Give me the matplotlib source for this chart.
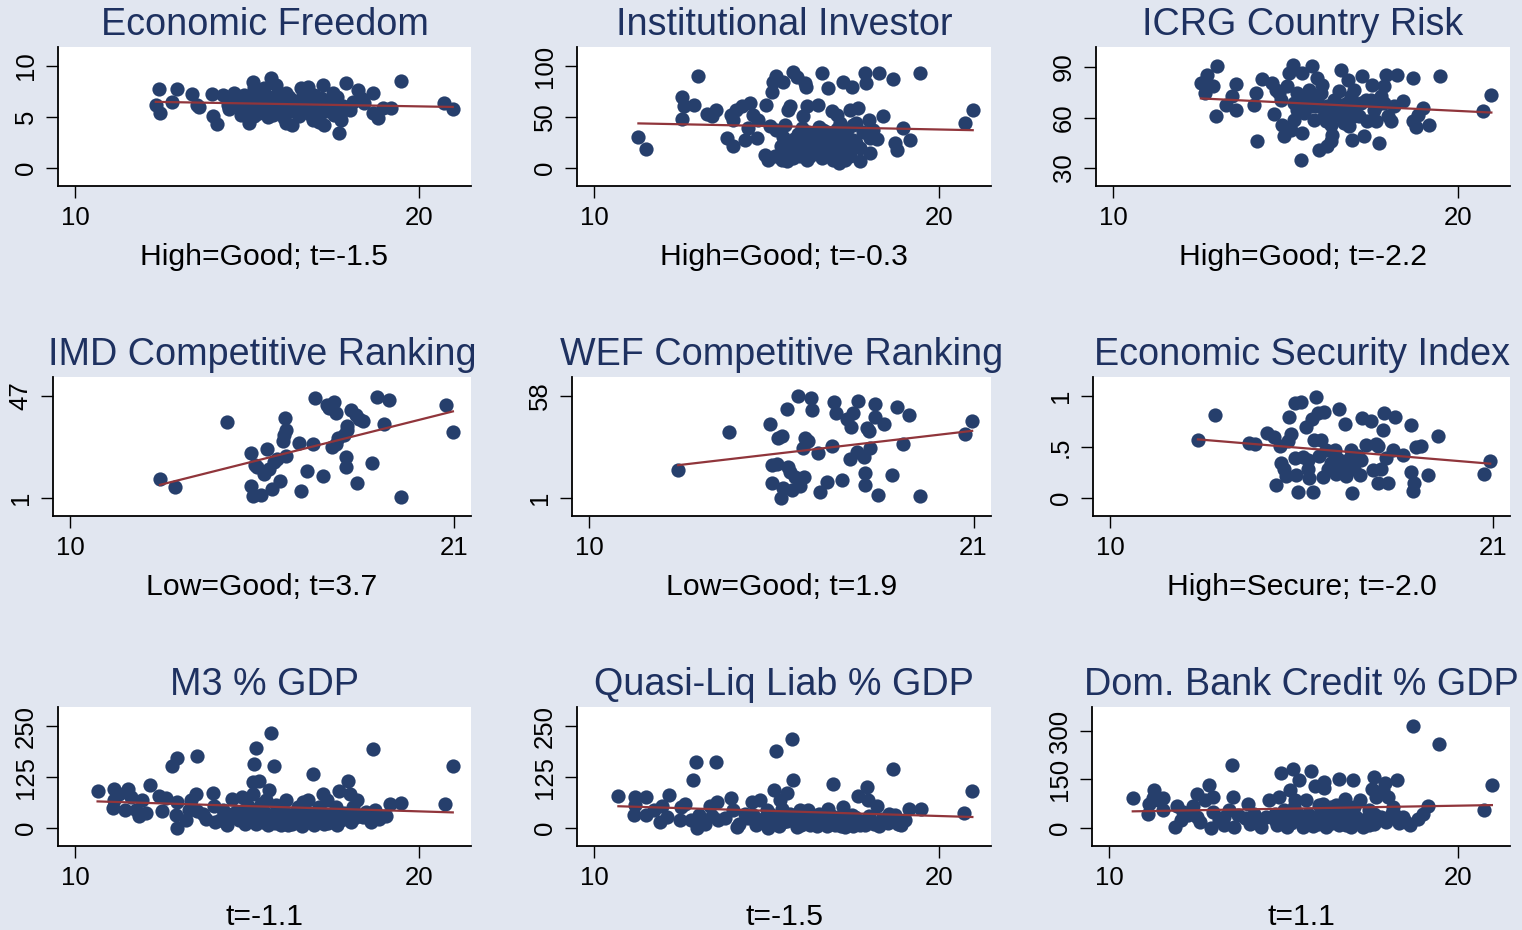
import numpy as np
import matplotlib
matplotlib.use('Agg')
import matplotlib.pyplot as plt

plt.rcParams['font.family'] = ['Liberation Sans', 'DejaVu Sans']

# (x, y) pairs
ef_pts = [(12.44, 7.72), (12.34, 6.19), (12.46, 5.44), (12.81, 6.51), (12.97, 7.72), (13.39, 7.26),
          (13.53, 6.19), (13.6, 6.0), (13.98, 7.26), (14.0, 5.05), (14.11, 4.33), (14.28, 7.17),
          (14.43, 6.19), (14.47, 5.77), (14.62, 7.33), (14.77, 6.84), (14.91, 5.54), (15.04, 4.4),
          (15.16, 8.47), (15.2, 7.82), (15.69, 8.79), (15.83, 8.14), (16.12, 7.33), (16.31, 4.23),
          (16.56, 7.82), (16.75, 7.98), (16.9, 4.72), (17.19, 8.14), (17.24, 4.23), (17.48, 7.33),
          (17.67, 3.42), (17.72, 4.72), (17.87, 8.31), (17.97, 5.7), (18.21, 7.65), (18.4, 6.35),
          (18.65, 7.33), (18.65, 5.37), (18.79, 4.89), (18.93, 5.86), (19.17, 5.86), (19.47, 8.57),
          (20.73, 6.35), (20.97, 5.77),
          (14.77, 6.03), (14.96, 6.51), (15.11, 5.7), (15.25, 6.19), (15.3, 7.33), (15.35, 5.37),
          (15.45, 6.51), (15.49, 7.82), (15.54, 5.86), (15.64, 7.0), (15.74, 5.21), (15.79, 6.35),
          (15.88, 7.33), (15.93, 5.7), (16.03, 6.51), (16.08, 4.89), (16.17, 6.03), (16.22, 7.0),
          (16.32, 5.54), (16.41, 6.35), (16.51, 5.05), (16.61, 7.17), (16.65, 5.86), (16.75, 6.51),
          (16.85, 5.21), (16.94, 7.17), (17.04, 6.03), (17.13, 6.84), (17.29, 5.54), (17.38, 6.51),
          (17.53, 5.21), (17.62, 7.0), (17.77, 6.03), (18.06, 6.51), (18.3, 6.84), (15.06, 7.0),
          (14.82, 5.21), (16.12, 4.4), (17.09, 4.56),
          (14.9, 7.2), (15.1, 6.8), (15.3, 6.0), (15.5, 7.1), (15.7, 6.2), (15.9, 6.8),
          (16.1, 5.4), (16.3, 6.7), (16.5, 6.0), (16.7, 5.5), (16.9, 6.2), (17.1, 5.3),
          (17.3, 6.0), (17.5, 5.6), (17.7, 5.2), (14.6, 6.6), (15.2, 5.1), (15.6, 5.0)]

ii_pts = [(11.28, 30.9), (11.51, 18.6), (12.54, 47.9), (12.54, 69.4), (12.61, 60.9), (12.88, 61.9),
          (13.02, 90.6), (13.26, 53.1), (13.41, 51.1), (13.53, 57.0), (13.84, 29.3), (13.96, 52.1),
          (14.03, 47.2), (14.03, 21.2), (14.11, 57.0), (14.37, 27.0), (14.27, 60.9), (14.52, 63.5),
          (14.47, 39.1), (14.61, 52.1), (14.71, 29.3), (14.76, 47.2), (14.95, 13.0), (14.98, 61.9),
          (15.05, 7.5), (15.14, 74.9), (15.19, 84.7), (15.28, 90.2), (15.48, 84.7), (15.1, 41.4),
          (15.28, 37.5), (15.38, 13.0), (15.43, 7.5), (15.48, 30.9), (15.53, 42.3), (15.63, 57.0),
          (15.68, 60.9), (15.72, 17.9), (15.77, 94.5), (15.87, 89.6), (15.96, 11.4), (16.01, 39.1),
          (16.06, 51.1), (16.11, 83.1), (16.14, 79.8), (16.16, 60.3), (16.18, 8.1), (16.25, 27.7),
          (16.3, 17.9), (16.35, 32.6), (16.44, 21.2), (16.49, 61.9), (16.59, 93.5), (16.69, 24.4),
          (16.74, 35.8), (16.78, 78.2), (16.84, 17.9), (16.88, 55.4), (16.93, 8.1), (16.98, 26.1),
          (17.03, 52.1), (17.08, 4.9), (17.12, 44.0), (17.17, 30.9), (17.22, 84.7), (17.27, 8.1),
          (17.36, 17.9), (17.41, 57.0), (17.46, 79.8), (17.51, 42.3), (17.6, 44.0), (17.65, 58.6),
          (17.7, 6.5), (17.7, 19.5), (17.84, 92.8), (17.89, 83.1), (17.95, 47.2), (18.0, 14.7),
          (18.0, 29.3), (18.09, 37.5), (18.19, 28.3), (18.24, 92.8), (18.38, 50.5), (18.67, 87.0),
          (18.72, 24.4), (18.77, 17.9), (18.96, 39.1), (19.15, 27.7), (19.44, 92.8), (20.74, 44.6),
          (20.97, 56.4),
          (15.58, 21.2), (15.87, 24.4), (16.16, 21.2), (16.35, 14.7), (16.54, 27.7), (16.63, 37.5),
          (16.78, 30.9), (16.93, 34.2), (17.08, 27.7), (16.54, 14.7), (16.25, 11.4), (15.77, 9.8),
          (15.24, 11.4), (15.58, 6.5), (16.06, 27.7), (17.22, 24.4), (17.32, 37.5), (17.51, 27.7),
          (15.6, 15.0), (15.8, 28.0), (16.0, 20.0), (16.2, 35.0), (16.4, 25.0), (16.6, 10.0),
          (16.8, 22.0), (17.0, 15.0), (17.2, 33.0), (17.4, 12.0), (17.6, 25.0), (15.9, 33.0),
          (16.5, 40.0), (17.05, 38.0), (15.4, 22.0), (17.8, 35.0)]

icrg_pts = [(12.54, 80.5), (12.65, 74.6), (12.73, 85.4), (12.88, 79.0), (12.97, 61.1), (13.02, 90.4),
            (13.26, 67.2), (13.43, 72.6), (13.55, 80.2), (13.55, 64.3), (14.08, 67.6), (14.13, 74.6),
            (14.16, 45.8), (14.32, 82.6), (14.61, 80.5), (14.66, 61.9), (14.71, 76.6), (14.81, 74.6),
            (14.9, 55.7), (14.95, 48.8), (15.05, 78.6), (15.1, 86.4), (15.15, 52.8), (15.2, 91.4),
            (15.24, 58.7), (15.34, 64.7), (15.43, 35.0), (15.48, 86.4), (15.48, 50.8), (15.53, 70.6),
            (15.68, 76.6), (15.77, 90.8), (15.82, 58.7), (15.87, 66.6), (15.92, 83.5), (15.96, 40.9),
            (16.01, 74.6), (16.06, 79.5), (16.11, 60.7), (16.16, 57.7), (16.21, 42.9), (16.3, 45.8),
            (16.35, 49.8), (16.4, 70.6), (16.45, 63.7), (16.54, 75.6), (16.59, 88.4), (16.64, 67.6),
            (16.69, 56.7), (16.74, 62.7), (16.79, 82.5), (16.83, 54.8), (16.88, 72.6), (16.93, 46.8),
            (16.98, 76.6), (17.03, 66.6), (17.12, 60.7), (17.22, 84.5), (17.27, 48.8), (17.32, 70.6),
            (17.36, 57.7), (17.51, 79.5), (17.56, 64.7), (17.61, 57.7), (17.7, 44.9), (17.75, 72.6),
            (17.85, 78.6), (17.9, 85.4), (17.95, 60.7), (18.04, 57.7), (18.14, 66.6), (18.22, 85.4),
            (18.39, 69.6), (18.68, 83.5), (18.68, 57.7), (18.78, 54.4), (18.83, 61.7), (18.98, 65.6),
            (19.15, 55.7), (19.47, 84.8), (20.72, 64.1), (20.96, 73.6),
            (14.86, 70.6), (15.24, 68.6), (15.53, 62.7), (15.73, 66.6), (15.92, 70.6), (16.21, 66.6),
            (16.4, 60.7), (16.59, 64.7), (16.78, 68.6), (16.98, 60.7), (17.17, 68.6), (17.46, 70.6),
            (17.65, 67.6), (16.3, 55.7), (15.34, 74.6), (15.77, 72.6), (17.85, 68.6)]

imd_pts = [(12.57, 9.7), (13.01, 5.9), (14.5, 35.1), (15.17, 21.5), (15.19, 6.5), (15.25, 1.7),
           (15.31, 15.9), (15.48, 2.5), (15.55, 11.9), (15.65, 23.0), (15.7, 14.0), (15.79, 5.2),
           (15.92, 18.4), (16.01, 8.9), (16.11, 26.9), (16.15, 36.9), (16.18, 19.9), (16.2, 31.9),
           (16.56, 25.9), (16.61, 4.0), (16.78, 13.0), (16.97, 25.3), (17.02, 46.1), (17.26, 11.0),
           (17.38, 42.8), (17.52, 23.8), (17.57, 44.3), (17.62, 39.4), (17.67, 27.9), (17.86, 29.4),
           (17.91, 19.4), (17.91, 15.2), (17.95, 33.4), (18.05, 40.9), (18.22, 8.0), (18.19, 38.3),
           (18.41, 35.8), (18.67, 16.7), (18.8, 46.8), (18.99, 34.2), (19.15, 45.1), (19.49, 1.3),
           (20.77, 43.1), (20.98, 30.9), (16.13, 29.4), (15.84, 17.4), (15.36, 15.2), (17.43, 41.8),
           (17.62, 25.3), (17.95, 31.6), (18.29, 36.8)]

wef_pts = [(12.54, 16.7), (13.99, 38.0), (15.17, 42.6), (15.22, 19.5), (15.23, 9.3), (15.36, 20.0),
           (15.41, 34.3), (15.5, 35.6), (15.48, 1.0), (15.55, 6.6), (15.65, 51.0), (15.69, 18.2),
           (15.74, 15.8), (15.81, 5.3), (15.88, 12.7), (15.96, 57.8), (16.02, 7.5), (16.12, 28.8),
           (16.15, 12.7), (16.17, 34.3), (16.25, 33.0), (16.35, 57.1), (16.38, 50.0), (16.54, 26.0),
           (16.6, 4.1), (16.79, 9.7), (16.94, 30.1), (17.0, 54.7), (17.05, 48.6), (17.22, 11.2),
           (17.37, 44.9), (17.46, 22.7), (17.49, 40.8), (17.56, 48.6), (17.65, 26.9), (17.7, 55.2),
           (17.85, 23.8), (17.9, 15.2), (17.9, 8.0), (17.95, 39.9), (18.0, 38.6), (18.04, 28.8),
           (18.19, 53.4), (18.19, 46.3), (18.26, 2.9), (18.43, 42.2), (18.66, 14.0), (18.8, 51.9),
           (18.97, 31.2), (19.16, 47.3), (19.47, 2.3), (20.75, 36.7), (20.96, 43.9)]

esi_pts = [(12.52, 0.57), (13.0, 0.81), (13.98, 0.54), (14.15, 0.53), (14.51, 0.64), (14.72, 0.60),
           (14.77, 0.13), (14.87, 0.51), (14.91, 0.34), (14.99, 0.28), (15.06, 0.22), (15.11, 0.56),
           (15.15, 0.79), (15.2, 0.63), (15.3, 0.93), (15.3, 0.39), (15.34, 0.23), (15.41, 0.06),
           (15.48, 0.94), (15.53, 0.40), (15.63, 0.70), (15.68, 0.28), (15.73, 0.20), (15.79, 0.77),
           (15.84, 0.06), (15.91, 0.99), (15.97, 0.83), (16.01, 0.41), (16.06, 0.57), (16.11, 0.21),
           (16.16, 0.84), (16.21, 0.47), (16.27, 0.28), (16.4, 0.45), (16.5, 0.24), (16.54, 0.38),
           (16.59, 0.87), (16.64, 0.31), (16.75, 0.73), (16.78, 0.22), (16.88, 0.38), (16.93, 0.47),
           (16.94, 0.05), (17.02, 0.28), (17.12, 0.41), (17.19, 0.23), (17.23, 0.78), (17.36, 0.52),
           (17.5, 0.75), (17.55, 0.27), (17.64, 0.53), (17.71, 0.15), (17.79, 0.28), (17.84, 0.67),
           (17.88, 0.83), (17.93, 0.39), (18.0, 0.15), (18.12, 0.47), (18.19, 0.79), (18.42, 0.42),
           (18.64, 0.72), (18.64, 0.26), (18.71, 0.07), (18.75, 0.15), (18.8, 0.50), (18.94, 0.51),
           (19.13, 0.23), (19.43, 0.61), (20.74, 0.24), (20.93, 0.36),
           (15.87, 0.57), (16.35, 0.34), (16.45, 0.47), (16.73, 0.34), (17.21, 0.37), (15.68, 0.37),
           (17.69, 0.51)]

m3_pts = [(10.65, 90.7), (11.09, 49.8), (11.13, 96.4), (11.13, 69.4), (11.28, 84.2), (11.45, 43.3),
          (11.52, 96.4), (11.62, 76.0), (11.76, 43.3), (11.86, 28.6), (11.94, 69.4), (12.05, 36.8),
          (12.17, 106.2), (12.44, 77.6), (12.52, 41.7), (12.64, 74.3), (12.81, 152.0), (12.97, 172.4),
          (12.97, 63.7), (12.93, 31.0), (12.97, 0.5), (13.22, 18.8), (13.36, 69.4), (13.51, 82.5),
          (13.53, 176.5), (13.55, 41.7), (13.8, 22.9), (13.99, 85.8), (14.04, 53.1), (14.07, 14.7),
          (14.28, 43.3), (14.48, 22.9), (14.57, 71.9), (14.67, 39.2), (14.77, 18.8), (14.86, 76.0),
          (14.94, 10.6), (15.01, 53.1), (15.16, 84.2), (15.17, 112.7), (15.2, 157.7), (15.25, 196.9),
          (15.3, 35.1), (15.35, 115.2), (15.4, 59.6), (15.45, 14.7), (15.54, 67.8), (15.59, 6.5),
          (15.64, 94.0), (15.69, 232.8), (15.74, 31.0), (15.79, 152.0), (15.83, 55.6), (15.93, 18.8),
          (16.03, 43.3), (16.12, 67.8), (16.17, 6.5), (16.32, 35.1), (16.46, 51.5), (16.56, 14.7),
          (16.61, 63.7), (16.75, 67.8), (16.85, 35.1), (16.9, 131.5), (16.98, 18.8), (17.09, 51.5),
          (17.19, 84.2), (17.24, 10.6), (17.33, 67.8), (17.43, 35.1), (17.58, 51.5), (17.66, 90.7),
          (17.72, 20.4), (17.92, 115.2), (17.97, 84.2), (18.06, 51.5), (18.18, 67.8), (18.36, 27.0),
          (18.55, 27.0), (18.66, 192.8), (18.72, 43.3), (18.84, 22.9), (19.03, 28.6), (19.15, 59.6),
          (19.47, 61.3), (20.75, 58.0), (20.97, 152.8),
          (14.57, 35.1), (14.81, 31.0), (15.1, 27.0), (15.5, 39.2), (15.69, 22.9), (15.88, 35.1),
          (15.98, 6.5), (16.22, 22.9), (16.42, 18.8), (16.66, 31.0), (16.8, 14.7), (17.04, 31.0),
          (17.28, 22.9), (17.48, 31.0), (15.16, 43.3), (15.4, 31.0), (16.12, 31.0),
          (14.2, 20.0), (14.4, 8.0), (14.7, 28.0), (14.9, 45.0), (15.05, 18.0), (15.25, 10.0),
          (15.45, 40.0), (15.6, 25.0), (15.8, 12.0), (15.95, 48.0), (16.05, 20.0), (16.3, 10.0),
          (16.5, 38.0), (16.7, 22.0), (16.95, 8.0), (17.15, 40.0), (17.35, 12.0), (17.55, 22.0),
          (17.8, 38.0), (18.0, 15.0), (18.25, 30.0), (18.45, 40.0), (13.7, 35.0), (13.3, 45.0),
          (16.6, 5.0), (17.0, 25.0), (17.6, 8.0), (18.1, 25.0), (18.6, 15.0)]

ql_pts = [(10.7, 78.4), (11.14, 31.0), (11.19, 76.0), (11.19, 55.6), (11.51, 76.0), (11.51, 31.0),
          (11.72, 43.3), (11.91, 14.7), (11.96, 53.1), (12.1, 27.0), (12.17, 80.1), (12.49, 18.8),
          (12.51, 51.5), (12.64, 58.0), (12.86, 116.8), (12.95, 161.8), (12.97, 0.5), (13.03, 31.0),
          (13.21, 9.0), (13.36, 53.1), (13.53, 161.8), (13.55, 63.7), (13.6, 18.8), (13.96, 74.3),
          (14.03, 43.3), (14.13, 2.5), (14.37, 35.1), (14.57, 63.7), (14.76, 18.8), (14.81, 67.8),
          (15.05, 0.5), (15.1, 35.1), (15.21, 92.3), (15.27, 188.7), (15.39, 67.8), (15.53, 35.1),
          (15.58, 85.8), (15.72, 219.0), (15.77, 116.8), (15.87, 2.5), (15.97, 43.3), (16.16, 22.9),
          (16.25, 6.5), (16.5, 35.1), (16.64, 18.8), (16.78, 47.4), (16.93, 107.0), (16.98, 6.5),
          (17.22, 51.5), (17.27, 2.5), (17.46, 31.0), (17.65, 78.4), (17.7, 6.5), (17.9, 100.5),
          (17.94, 67.8), (18.19, 53.1), (18.33, 22.9), (18.65, 145.4), (18.72, 31.0), (18.81, 9.0),
          (19.0, 20.4), (19.13, 47.4), (19.46, 47.4), (20.72, 37.6), (20.96, 90.7),
          (14.61, 31.0), (14.9, 22.9), (15.29, 27.0), (15.48, 14.7), (15.68, 35.1), (15.87, 22.9),
          (16.06, 35.1), (16.35, 18.8), (16.54, 31.0), (16.83, 14.7), (17.12, 27.0), (17.41, 14.7),
          (17.56, 27.0), (15.19, 14.7), (15.0, 43.3), (15.44, 47.4), (16.2, 43.3),
          (14.2, 10.0), (14.45, 25.0), (14.7, 8.0), (14.95, 15.0), (15.15, 30.0), (15.35, 5.0),
          (15.6, 18.0), (15.8, 30.0), (16.0, 8.0), (16.15, 35.0), (16.4, 12.0), (16.6, 25.0),
          (16.75, 5.0), (16.9, 30.0), (17.05, 15.0), (17.3, 28.0), (17.5, 5.0), (17.75, 18.0),
          (17.95, 30.0), (18.1, 10.0), (18.4, 20.0), (18.55, 35.0), (13.8, 25.0), (13.4, 30.0),
          (12.8, 20.0), (17.15, 4.0), (17.85, 8.0), (18.25, 5.0), (18.5, 12.0), (18.9, 8.0),
          (16.45, 4.0)]

dbc_pts = [(10.67, 93.8), (11.1, 44.3), (11.15, 73.2), (11.24, 93.8), (11.29, 118.6), (11.39, 85.6),
           (11.53, 93.8), (11.53, 54.6), (11.87, 3.1), (11.94, 67.0), (12.06, 23.7), (12.25, 39.2),
           (12.39, 67.0), (12.52, 104.1), (12.52, 34.0), (12.73, 85.6), (12.87, 132.0), (12.92, 0.5),
           (12.97, 95.9), (12.97, 49.5), (13.16, 23.7), (13.28, 8.2), (13.44, 54.6), (13.51, 193.8),
           (13.54, 95.9), (13.59, 3.1), (13.68, 39.2), (13.99, 75.3), (14.05, 11.3), (14.16, 44.3),
           (14.35, 3.1), (14.59, 85.6), (14.74, 44.3), (14.88, 95.9), (14.93, 170.1), (15.02, 54.6),
           (15.1, 3.1), (15.17, 116.5), (15.26, 183.5), (15.33, 85.6), (15.41, 44.3), (15.45, 147.4),
           (15.55, 3.1), (15.65, 85.6), (15.79, 176.3), (15.84, 34.0), (15.89, 128.9), (16.03, 70.1),
           (16.12, 75.3), (16.15, 142.3), (16.17, 124.7), (16.22, 3.1), (16.36, 44.3), (16.51, 70.1),
           (16.6, 152.6), (16.65, 23.7), (16.75, 90.7), (16.79, 54.6), (16.94, 3.1), (16.99, 147.4),
           (17.08, 34.0), (17.18, 87.6), (17.27, 3.1), (17.46, 54.6), (17.53, 121.6), (17.59, 157.7),
           (17.66, 95.9), (17.73, 23.7), (17.85, 118.6), (17.9, 139.2), (18.0, 95.9), (18.13, 64.9),
           (18.2, 39.2), (18.26, 147.4), (18.42, 34.0), (18.64, 8.2), (18.71, 314.4), (18.85, 28.9),
           (18.99, 44.3), (19.16, 67.0), (19.47, 258.8), (20.75, 54.6), (20.98, 132.0),
           (14.74, 23.7), (15.02, 28.9), (15.31, 34.0), (15.5, 23.7), (15.69, 44.3), (15.93, 18.6),
           (16.08, 39.2), (16.27, 23.7), (16.46, 34.0), (16.7, 44.3), (16.89, 28.9), (17.13, 18.6),
           (17.37, 28.9), (17.61, 44.3), (17.8, 34.0), (15.31, 64.9), (16.36, 64.9), (17.03, 64.9),
           (14.3, 20.0), (14.5, 35.0), (14.8, 10.0), (15.0, 40.0), (15.2, 15.0), (15.4, 25.0),
           (15.6, 8.0), (15.75, 30.0), (16.0, 12.0), (16.2, 45.0), (16.4, 15.0), (16.55, 28.0),
           (16.8, 10.0), (17.0, 40.0), (17.2, 25.0), (17.45, 10.0), (17.7, 35.0), (17.95, 20.0),
           (18.1, 45.0), (18.3, 15.0), (13.9, 30.0), (13.3, 35.0), (12.6, 20.0), (12.1, 50.0),
           (15.85, 5.0), (16.6, 8.0), (17.6, 12.0), (18.5, 20.0)]

titles = ['Economic Freedom', 'Institutional Investor', 'ICRG Country Risk',
          'IMD Competitive Ranking', 'WEF Competitive Ranking', 'Economic Security Index',
          'M3 % GDP', 'Quasi-Liq Liab % GDP', 'Dom. Bank Credit % GDP']
notes = ['High=Good; t=-1.5', 'High=Good; t=-0.3', 'High=Good; t=-2.2',
         'Low=Good; t=3.7', 'Low=Good; t=1.9', 'High=Secure; t=-2.0',
         't=-1.1', 't=-1.5', 't=1.1']
yticks = [[0, 5, 10], [0, 50, 100], [30, 60, 90],
          [1, 47], [1, 58], [0, 0.5, 1],
          [0, 125, 250], [0, 125, 250], [0, 150, 300]]
ytick_labels = [['0', '5', '10'], ['0', '50', '100'], ['30', '60', '90'],
                ['1', '47'], ['1', '58'], ['0', '.5', '1'],
                ['0', '125', '250'], ['0', '125', '250'], ['0', '150', '300']]
xticks = [[10, 20], [10, 20], [10, 20], [10, 21], [10, 21], [10, 21], [10, 20], [10, 20], [10, 20]]
all_pts = [ef_pts, ii_pts, icrg_pts, imd_pts, wef_pts, esi_pts, m3_pts, ql_pts, dbc_pts]

BG = '#e1e6f0'
NAVY = '#263f6c'
MAROON = '#90353b'
TITLE_C = '#1e3160'
W, H = 1522, 930

fig = plt.figure(figsize=(W / 100, H / 100), dpi=100)
fig.patch.set_facecolor(BG)

# pixel boxes (left, top, right, bottom) and y limits of each panel
boxes = [(58, 47, 471, 186), (577, 47, 991, 186), (1096, 47, 1510, 186),
         (53, 377, 471, 516), (572, 377, 991, 516), (1093, 377, 1510, 516),
         (58, 707, 471, 846), (577, 707, 991, 846), (1092, 707, 1510, 846)]
ylims = [(-1.76, 11.86), (-17.6, 118.6), (19.3, 101.9),
         (-7.1, 55.6), (-9.06, 68.6), (-0.176, 1.186),
         (-44.1, 296.6), (-44.1, 296.6), (-55.7, 374)]

for i in range(9):
    l, t, r, b = boxes[i]
    ax = fig.add_axes([l / W, 1 - b / H, (r - l) / W, (b - t) / H])
    ax.set_facecolor('white')
    x, y = np.array(all_pts[i]).T
    ax.scatter(x, y, s=105, color=NAVY, linewidths=0, zorder=2)
    k, c = np.polyfit(x, y, 1)
    xs = np.array([x.min(), x.max()])
    ax.plot(xs, k * xs + c, color=MAROON, lw=1.6, zorder=3)
    ax.set_xlim(9.5, 21.5)
    ax.set_ylim(*ylims[i])
    ax.set_xticks(xticks[i])
    ax.set_yticks(yticks[i])
    ax.set_yticklabels(ytick_labels[i], rotation=90, va='center')
    ax.tick_params(direction='out', length=8.5, width=1, pad=6, labelsize=18.5, colors='black')
    for s in ['top', 'right']:
        ax.spines[s].set_visible(False)
    for s in ['left', 'bottom']:
        ax.spines[s].set_linewidth(1.3)
        ax.spines[s].set_color('black')
    cx = (l + r) / 2 / W
    fig.text(cx, 1 - (t - 22) / H, titles[i], ha='center', va='center', fontsize=27.2, color=TITLE_C)
    fig.text(cx, 1 - (b + 71) / H, notes[i], ha='center', va='center', fontsize=21.7, color='black')

fig.savefig('out.png', dpi=100, facecolor=BG)
